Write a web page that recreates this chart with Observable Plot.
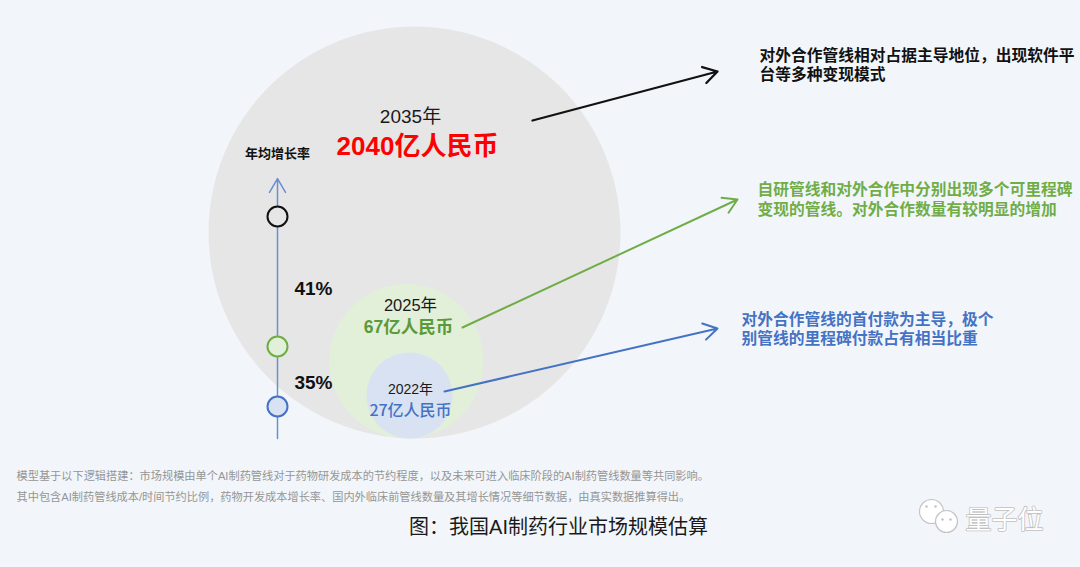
<!DOCTYPE html>
<html>
<head>
<meta charset="utf-8">
<script src="https://cdn.jsdelivr.net/npm/d3@7"></script>
<script src="https://cdn.jsdelivr.net/npm/@observablehq/plot@0.6"></script>
<style>
  html, body { margin: 0; padding: 0; background: #f2f6fa; }
  #chart { width: 1080px; height: 567px; }
</style>
</head>
<body>
<div id="chart"></div>
<script>
// ---------------- data ----------------
const years = [2022, 2025, 2035];
const marketSize = [27, 67, 2040];           // 亿人民币
const yearLabels = ["2022年", "2025年", "2035年"];
const sizeLabels = ["27亿人民币", "67亿人民币", "2040亿人民币"];
const growthLabels = ["35%", "41%"];          // 2022→2025, 2025→2035
const axisTitle = "年均增长率";
const notes = [
  "对外合作管线的首付款为主导，极个\n别管线的里程碑付款占有相当比重",
  "自研管线和对外合作中分别出现多个可里程碑\n变现的管线。对外合作数量有较明显的增加",
  "对外合作管线相对占据主导地位，出现软件平\n台等多种变现模式"
];
const footnotes = [
  "模型基于以下逻辑搭建：市场规模由单个AI制药管线对于药物研发成本的节约程度，以及未来可进入临床阶段的AI制药管线数量等共同影响。",
  "其中包含AI制药管线成本/时间节约比例，药物开发成本增长率、国内外临床前管线数量及其增长情况等细节数据，由真实数据推算得出。"
];
const caption = "图：我国AI制药行业市场规模估算";
const brand = "量子位";

// ---------------- styles / layout ----------------
const FONT = '"Liberation Sans", "Noto Sans CJK SC", sans-serif';
const CJK = '"Noto Sans CJK SC", sans-serif';
const circleFill = ["#d9e2f3", "#e2efd9", "#e6e6e6"];
const accent = ["#4472c4", "#70ad47", "#111111"];
const sizeColor = ["#4472c4", "#5b9a3a", "#ff0000"];
const baseY = 438;                          // circles are tangent at the bottom
const circleX = [409, 406, 414];
const rScale = d3.scaleLog().domain([27, 2040]).range([43, 206]);
const axisX = 277, axisTop = 178;
const nodeY = [406, 346, 216];
const yearLabelPos = [[410, 389, 14], [410, 305, 16.5], [410, 116, 19]];
const sizeLabelPos = [[410, 410, 16, 500, CJK], [408, 327, 17.5, "bold", FONT], [417, 146, 26, "bold", FONT]];
const arrowPos = [[444, 391, 717, 328], [462, 327, 737, 199], [532, 120, 717, 71]];
const notePos = [[741, 327.5], [757, 198], [759, 63.5]];

const circles = years.map((yr, i) => {
  const r = rScale(marketSize[i]);
  return {year: yr, value: marketSize[i], r, x: circleX[i], y: baseY - r, fill: circleFill[i]};
}).sort((a, b) => b.value - a.value);

const nodes = years.map((yr, i) => ({year: yr, x: axisX, y: nodeY[i], stroke: accent[i], fill: circleFill[i]}));
const growth = growthLabels.map((g, i) => ({label: g, x: axisX + 36, y: i === 0 ? 382 : 288}));
const yearText = years.map((yr, i) => ({label: yearLabels[i], x: yearLabelPos[i][0], y: yearLabelPos[i][1], size: yearLabelPos[i][2]}));
const sizeText = years.map((yr, i) => ({label: sizeLabels[i], x: sizeLabelPos[i][0], y: sizeLabelPos[i][1], size: sizeLabelPos[i][2], weight: sizeLabelPos[i][3], font: sizeLabelPos[i][4], color: sizeColor[i]}));
const arrows = years.map((yr, i) => ({x1: arrowPos[i][0], y1: arrowPos[i][1], x2: arrowPos[i][2], y2: arrowPos[i][3], color: accent[i], sw: i === 2 ? 2.3 : 2}));
const noteText = notes.map((n, i) => ({label: n, x: notePos[i][0], y: notePos[i][1], color: accent[i]}));

const textMarks = [];
yearText.forEach(d => textMarks.push(Plot.text([d], {x: "x", y: "y", text: "label", fontSize: d.size, fill: "#1a1a1a", fontFamily: FONT})));
sizeText.forEach(d => textMarks.push(Plot.text([d], {x: "x", y: "y", text: "label", fontSize: d.size, fontWeight: d.weight, fill: d.color, fontFamily: d.font})));
arrows.forEach(d => textMarks.push(Plot.arrow([d], {x1: "x1", y1: "y1", x2: "x2", y2: "y2", stroke: d.color, strokeWidth: d.sw, headLength: 16 * 1.5 / d.sw, headAngle: 62})));
noteText.forEach(d => textMarks.push(Plot.text([d], {x: "x", y: "y", text: "label", textAnchor: "start", lineAnchor: "middle", lineHeight: 1.24, fontSize: 15.75, fontWeight: "bold", fill: d.color, fontFamily: FONT})));

const chart = Plot.plot({
  width: 1080,
  height: 567,
  margin: 0,
  x: {domain: [0, 1080], range: [0, 1080], axis: null},
  y: {domain: [0, 567], range: [0, 567], axis: null},
  r: {type: "identity"},
  color: {type: "identity"},
  style: {background: "transparent", fontFamily: FONT, overflow: "visible"},
  marks: [
    Plot.dot(circles, {x: "x", y: "y", r: "r", fill: "fill", stroke: null}),
    // growth-rate axis
    Plot.arrow([{x1: axisX, y1: baseY, x2: axisX, y2: axisTop}], {x1: "x1", y1: "y1", x2: "x2", y2: "y2", stroke: "#6b8fd4", strokeWidth: 1.5, headLength: 16, headAngle: 60}),
    Plot.dot(nodes, {x: "x", y: "y", r: 10, fill: "fill", stroke: "stroke", strokeWidth: 2}),
    Plot.text([axisTitle], {x: axisX, y: 153, text: d => d, fontSize: 13, fontWeight: "bold", fill: "#111", fontFamily: FONT}),
    Plot.text(growth, {x: "x", y: "y", text: "label", fontSize: 19, fontWeight: "bold", fill: "#111", fontFamily: FONT}),
    ...textMarks,
    Plot.text([footnotes.join("\n")], {x: 16, y: 483.5, text: d => d, textAnchor: "start", lineAnchor: "middle", lineHeight: 1.88, fontSize: 11.2, fill: "#959595", fontFamily: FONT}),
    Plot.text([caption], {x: 558, y: 527, text: d => d, fontSize: 20, fill: "#1a1a1a", fontFamily: FONT}),
    // brand logo
    Plot.dot([{x: 931, y: 511, r: 12}, {x: 946, y: 521, r: 11}], {x: "x", y: "y", r: "r", fill: "#ffffff", stroke: "#c4c4c4", strokeWidth: 1.2}),
    Plot.dot([{x: 926, y: 506}, {x: 935, y: 506}, {x: 942, y: 519}, {x: 950, y: 519}], {x: "x", y: "y", r: 1.3, fill: "#c4c4c4"}),
    Plot.text([brand], {x: 965, y: 520, text: d => d, textAnchor: "start", fontSize: 26, fill: "#ffffff", stroke: "#c0c0c0", strokeWidth: 1.6, fontFamily: FONT})
  ]
});
document.getElementById("chart").appendChild(chart);
</script>
</body>
</html>
